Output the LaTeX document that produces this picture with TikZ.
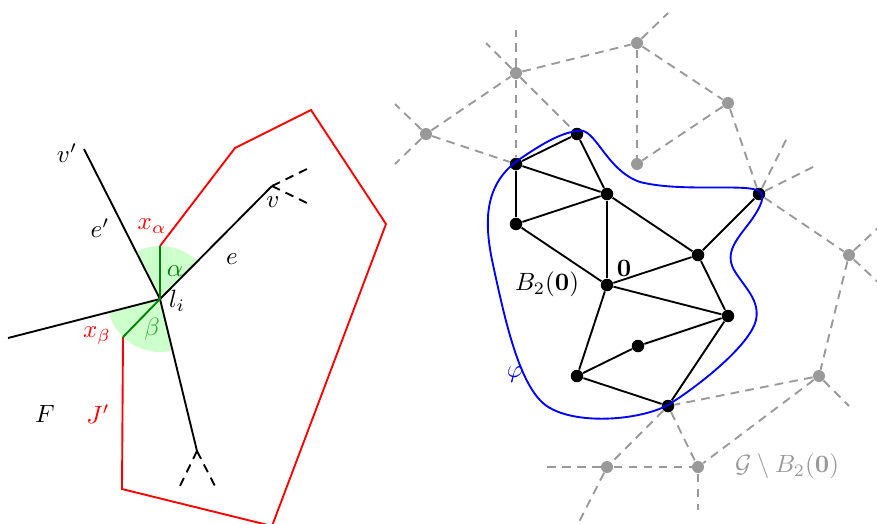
\documentclass[tikz,border=0pt]{standalone}
\usepackage{amsmath,amssymb}
\begin{document}
\begin{tikzpicture}[x=0.4pt,y=-0.4pt,
  blk/.style={line width=0.75pt,black},
  redline/.style={line width=0.75pt,red},
  grnline/.style={line width=0.75pt,green!50!black},
  bdash/.style={line width=0.75pt,black,dash pattern=on 3.5pt off 2.5pt},
  gdash/.style={line width=0.75pt,black!40,dash pattern=on 3.5pt off 2.5pt},
  bluecurve/.style={line width=0.75pt,blue},
  bdot/.style={circle,fill=black,inner sep=0pt,minimum size=5pt},
  gdot/.style={circle,fill=black!40,inner sep=0pt,minimum size=4.8pt},
  sector/.style={fill=green!20}]
\useasboundingbox (0,0) rectangle (877,523);
\begin{scope}
\clip (0,0) rectangle (877,523);
% ---------- left part ----------
\coordinate (li) at (160,299);
\coordinate (vp) at (84,149);
\coordinate (dn) at (197,451);
\coordinate (lf) at (8,338);
\coordinate (v) at (272,186);
\coordinate (va) at (311,167);
\coordinate (vb) at (311,205);
\coordinate (da) at (178,490);
\coordinate (db) at (217,490);
\coordinate (xa) at (160,246);
\coordinate (xb) at (123,337);
\coordinate (r1) at (235,148);
\coordinate (r2) at (311,110);
\coordinate (r3) at (386,224);
\coordinate (r4) at (272,526);
\coordinate (r5) at (122,489);
\begin{scope}
  \clip (li) -- (v) -- (vp) -- cycle;
  \fill[sector] (li) circle[radius=53];
\end{scope}
\begin{scope}
  \clip (li) -- (lf) -- (dn) -- cycle;
  \fill[sector] (li) circle[radius=53];
\end{scope}
\draw[blk] (vp) -- (li) -- (dn);
\draw[blk] (lf) -- (li) -- (v);
\draw[bdash] (v) -- (va);
\draw[bdash] (v) -- (vb);
\draw[bdash] (dn) -- (da);
\draw[bdash] (dn) -- (db);
\draw[redline] (xa) -- (r1) -- (r2) -- (r3) -- (r4) -- (r5) -- (xb);
\draw[grnline] (xa) -- (li) -- (xb);
\node (Lvp) at (67,153) {$v'$};
\node (Lep) at (100,228) {$e'$};
\node[red] (Lxa) at (152,226) {$x_\alpha$};
\node[green!50!black] (La) at (175,271) {$\alpha$};
\node (Le) at (232,259) {$e$};
\node (Lli) at (177,301) {$l_i$};
\node (Lv) at (273,202) {$v$};
\node[red] (Lxb) at (97,336) {$x_\beta$};
\node[green!60!black!80] (Lb) at (152,329) {$\beta$};
\node (LF) at (45,414) {$F$};
\node[red] (LJ) at (98,414) {$J'$};
% ---------- right part ----------
\node[gdot] (g1) at (426,134) {};
\node[gdot] (g2) at (516,73) {};
\node[gdot] (g3) at (637,43) {};
\node[gdot] (g4) at (728,103) {};
\node[gdot] (g5) at (637,164) {};
\node[gdot] (g6) at (849,255) {};
\node[gdot] (g7) at (819,376) {};
\node[gdot] (g8) at (607,467) {};
\node[gdot] (g9) at (698,467) {};
\coordinate (s1a) at (395,104);
\coordinate (s1b) at (395,164);
\coordinate (s2a) at (516,30);
\coordinate (s2b) at (486,43);
\coordinate (s3a) at (668,13);
\coordinate (sEa) at (787,138);
\coordinate (sEb) at (815,166);
\coordinate (s6a) at (880,226);
\coordinate (s6b) at (880,284);
\coordinate (s7a) at (849,406);
\coordinate (s8a) at (547,467);
\coordinate (s8b) at (578,524);
\coordinate (s9a) at (698,510);
\node[bdot] (A) at (516,164) {};
\node[bdot] (B) at (577,134) {};
\node[bdot] (C) at (607,194) {};
\node[bdot] (D) at (516,224) {};
\node[bdot] (E) at (759,194) {};
\node[bdot] (Fv) at (698,255) {};
\node[bdot] (O) at (607,285) {};
\node[bdot] (G) at (728,316) {};
\node[bdot] (H) at (638,346) {};
\node[bdot] (I) at (577,376) {};
\node[bdot] (J) at (668,406) {};
\foreach \a/\b in {g1/A,g1/g2,g1/s1a,g1/s1b,g2/A,g2/B,g2/g3,g2/s2a,g2/s2b,
  g3/g5,g3/g4,g3/s3a,g4/g5,g4/E,E/sEa,E/sEb,E/g6,g6/s6a,g6/s6b,g6/g7,
  g7/s7a,g7/J,g7/g9,J/g9,J/g8,g8/s8a,g8/s8b,g8/g9,g9/s9a}
  \draw[gdash] (\a) -- (\b);
\foreach \a/\b in {A/B,A/C,A/D,B/C,C/D,C/O,C/Fv,D/O,O/Fv,O/G,Fv/E,Fv/G,G/H,H/I,I/O,I/J,J/G}
  \draw[blk] (\a) -- (\b);
\draw[bluecurve] (577,131) .. controls (595,125) and (605,170) .. (640,182)
  .. controls (680,192) and (740,184) .. (757,190)
  .. controls (768,194) and (760,208) .. (750,222)
  .. controls (738,238) and (724,252) .. (734,270)
  .. controls (745,288) and (760,300) .. (756,320)
  .. controls (750,345) and (700,385) .. (668,405)
  .. controls (640,420) and (580,425) .. (550,408)
  .. controls (520,392) and (505,320) .. (492,260)
  .. controls (484,220) and (485,185) .. (517,161)
  .. controls (540,145) and (560,133) .. (577,131) -- cycle;
\node[blue] (Lphi) at (515,375) {$\varphi$};
\node (Lzero) at (624,268) {$\mathbf{0}$};
\node (LB) at (547,284) {$B_2(\mathbf{0})$};
\node[black!40] (LG) at (787,466) {$\mathcal{G}\setminus B_2(\mathbf{0})$};
\end{scope}
\end{tikzpicture}
\end{document}
